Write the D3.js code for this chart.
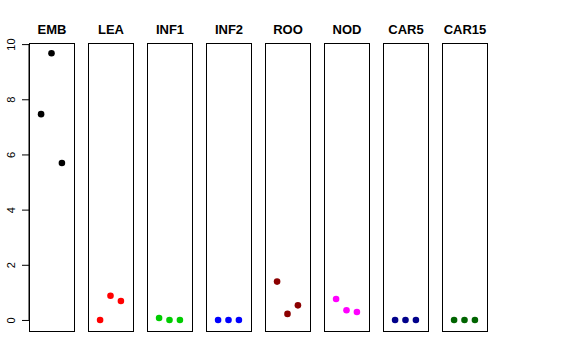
<!DOCTYPE html>
<html>
<head>
<meta charset="utf-8">
<script src="https://cdn.jsdelivr.net/npm/d3@7"></script>
<style>
  body { margin: 0; background: #fff; }
  svg { display: block; font-family: "Liberation Sans", Arial, sans-serif; }
</style>
</head>
<body>
<div id="chart"></div>
<script>
// tissues (one panel each), three replicate values per tissue
let tissues = ["EMB", "LEA", "INF1", "INF2", "ROO", "NOD", "CAR5", "CAR15"];
let colors = ["#000000", "#ff0000", "#00cd00", "#0000ff", "#8b0000", "#ff00ff", "#00008b", "#006400"];
let replicates = [1, 2, 3];
let values = [
    [7.46, 9.67, 5.69],
    [0.0, 0.88, 0.69],
    [0.07, 0.0, 0.0],
    [0.0, 0.0, 0.0],
    [1.39, 0.22, 0.53],
    [0.76, 0.35, 0.29],
    [0.0, 0.0, 0.0],
    [0.0, 0.0, 0.0]
];
let yTicks = [0, 2, 4, 6, 8, 10];

let svgWidth = 576, svgHeight = 360;
let panelLeft = 29, panelStep = 59, panelWidth = 45,
    panelTop = 43, panelBottom = 331;

let svg = d3.select("#chart").append("svg")
    .attr("width", svgWidth)
    .attr("height", svgHeight);

let y = d3.scaleLinear().domain([-0.4, 10.04]).range([panelBottom, panelTop]);
let x = d3.scaleLinear().domain([-0.16, 4.16]).range([0, panelWidth]);

//y axis on the first panel
let yAxis = svg.append("g")
    .attr("transform", `translate(${panelLeft}, 0)`)
    .call(d3.axisLeft(y).tickValues(yTicks).tickSize(7).tickPadding(0));
yAxis.select(".domain").attr("d", `M0,${y(0)}V${y(10)}`).attr("stroke", "#000");
yAxis.selectAll(".tick line").attr("stroke", "#000");
yAxis.selectAll(".tick text")
    .attr("font-size", 11)
    .attr("fill", "#000")
    .attr("x", 0)
    .attr("dy", 0)
    .attr("text-anchor", "middle")
    .attr("transform", "translate(-17, 0) rotate(-90)")
    .attr("dominant-baseline", "middle");

//one group per tissue
let panels = svg.selectAll(".panel")
    .data(tissues)
    .enter().append("g")
    .attr("class", "panel")
    .attr("transform", (d, i) => `translate(${panelLeft + i * panelStep}, 0)`);

panels.append("rect")
    .attr("x", 0.5)
    .attr("y", panelTop + 0.5)
    .attr("width", panelWidth)
    .attr("height", panelBottom - panelTop)
    .attr("fill", "none")
    .attr("stroke", "#000");

panels.append("text")
    .attr("x", panelWidth / 2 + 0.5)
    .attr("y", 34)
    .attr("text-anchor", "middle")
    .attr("font-size", 13)
    .attr("font-weight", "bold")
    .text(d => d);

panels.selectAll("circle")
    .data((d, i) => values[i].map((v, j) => ({rep: replicates[j], v: v, col: colors[i]})))
    .enter().append("circle")
    .attr("cx", d => x(d.rep))
    .attr("cy", d => y(d.v))
    .attr("r", 3.3)
    .attr("fill", d => d.col);
</script>
</body>
</html>
